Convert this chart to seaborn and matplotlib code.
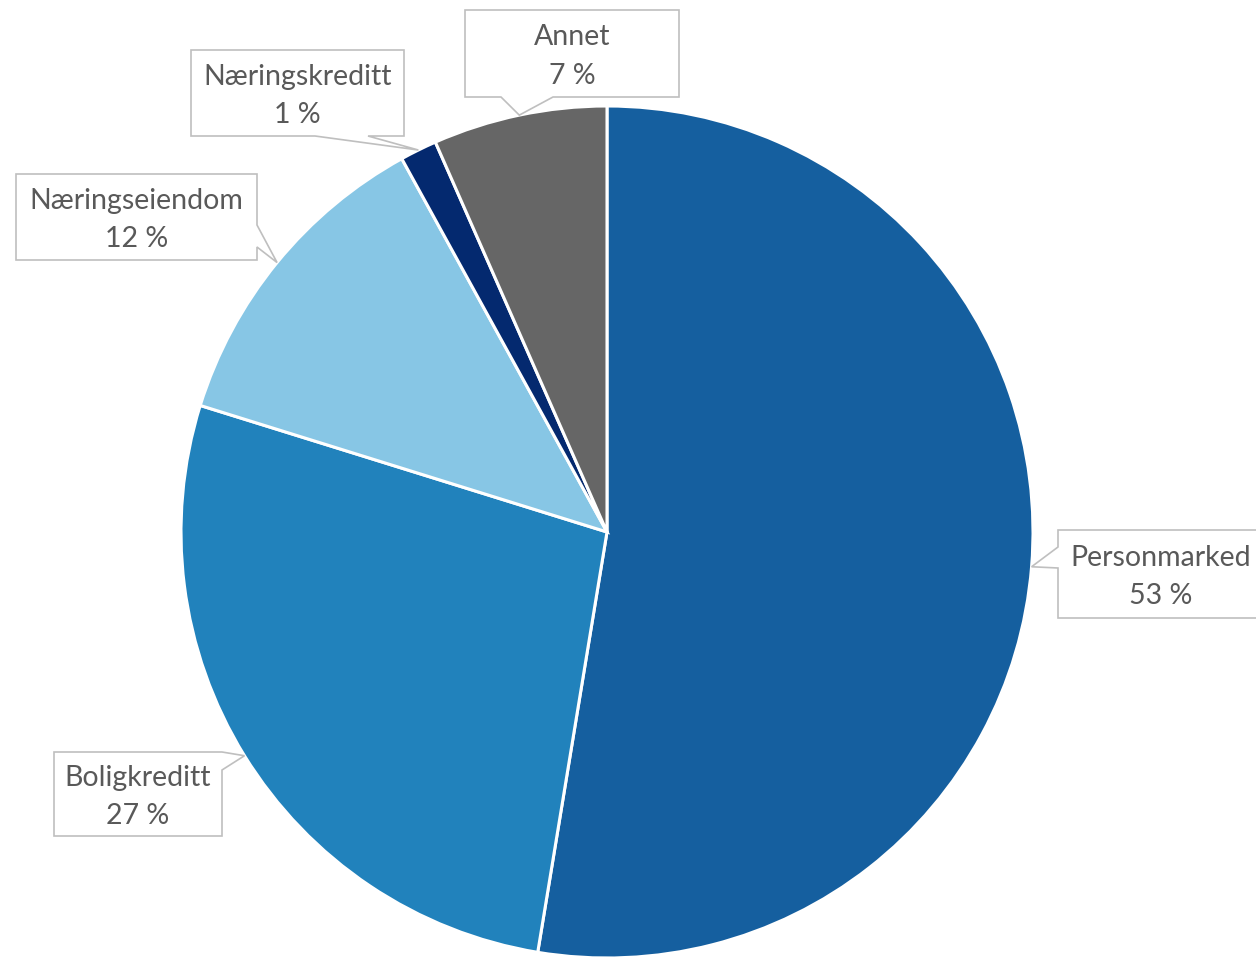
import numpy as np
import matplotlib
matplotlib.use("Agg")
import matplotlib.pyplot as plt
from matplotlib.patches import Polygon
import seaborn as sns

# ---- data ----
labels = ["Personmarked", "Boligkreditt", "Næringseiendom", "Næringskreditt", "Annet"]
shares = [52.6, 27.2, 12.2, 1.4, 6.6]
colors = ["#155F9F", "#2182BC", "#87C6E5", "#04296F", "#666666"]

sns.set_theme(style="white")
plt.rcParams["font.family"] = ["Lato", "DejaVu Sans"]

W, H = 1256, 958
fig = plt.figure(figsize=(W / 100, H / 100), dpi=100)
ax = fig.add_axes([0, 0, 1, 1])

cx, cy_px, R = 607, 532, 426


def Y(y_px):
    return H - y_px


ax.pie(shares, colors=colors, startangle=90, counterclock=False,
       radius=R, center=(cx, Y(cy_px)),
       wedgeprops=dict(edgecolor="white", linewidth=2.2))
ax.set_xlim(0, W)
ax.set_ylim(0, H)
ax.set_aspect("equal")
ax.axis("off")

# callout layout (pixel coords, y downwards): box, side of pointer, pointer base
layout = {
    "Personmarked": dict(box=(1058, 530, 1266, 618), side="left", base=(547, 568)),
    "Boligkreditt": dict(box=(54, 752, 222, 836), side="right", base=(752, 770)),
    "Næringseiendom": dict(box=(16, 174, 257, 260), side="right", base=(225, 247)),
    "Næringskreditt": dict(box=(191, 50, 404, 136), side="bottom", base=(315, 368)),
    "Annet": dict(box=(465, 10, 679, 97), side="bottom", base=(501, 553)),
}

total = sum(shares)
cum = np.cumsum([0] + shares)
for i, (lab, v) in enumerate(zip(labels, shares)):
    mid = (cum[i] + v / 2) / total * 360.0
    tx = cx + R * np.sin(np.radians(mid))
    ty = cy_px - R * np.cos(np.radians(mid))
    L = layout[lab]
    x0, y0, x1, y1 = L["box"]
    a, b = L["base"]
    side = L["side"]
    pts = [(x0, y0), (x1, y0)]
    if side == "right":
        pts += [(x1, a), (tx, ty), (x1, b)]
    pts += [(x1, y1)]
    if side == "bottom":
        pts += [(b, y1), (tx, ty), (a, y1)]
    pts += [(x0, y1)]
    if side == "left":
        pts += [(x0, b), (tx, ty), (x0, a)]
    poly = Polygon([(px, Y(py)) for px, py in pts], closed=True,
                   facecolor="white", edgecolor="#BFBFBF", linewidth=1.2, zorder=5)
    ax.add_patch(poly)
    ax.text((x0 + min(x1, W)) / 2 + (4 if side == "left" else 0), Y((y0 + y1) / 2 + 3),
            f"{lab}\n{round(v)} %", ha="center", va="center",
            fontsize=20.5, color="#595959", linespacing=1.6, zorder=6)

fig.savefig("out.png", dpi=100)
